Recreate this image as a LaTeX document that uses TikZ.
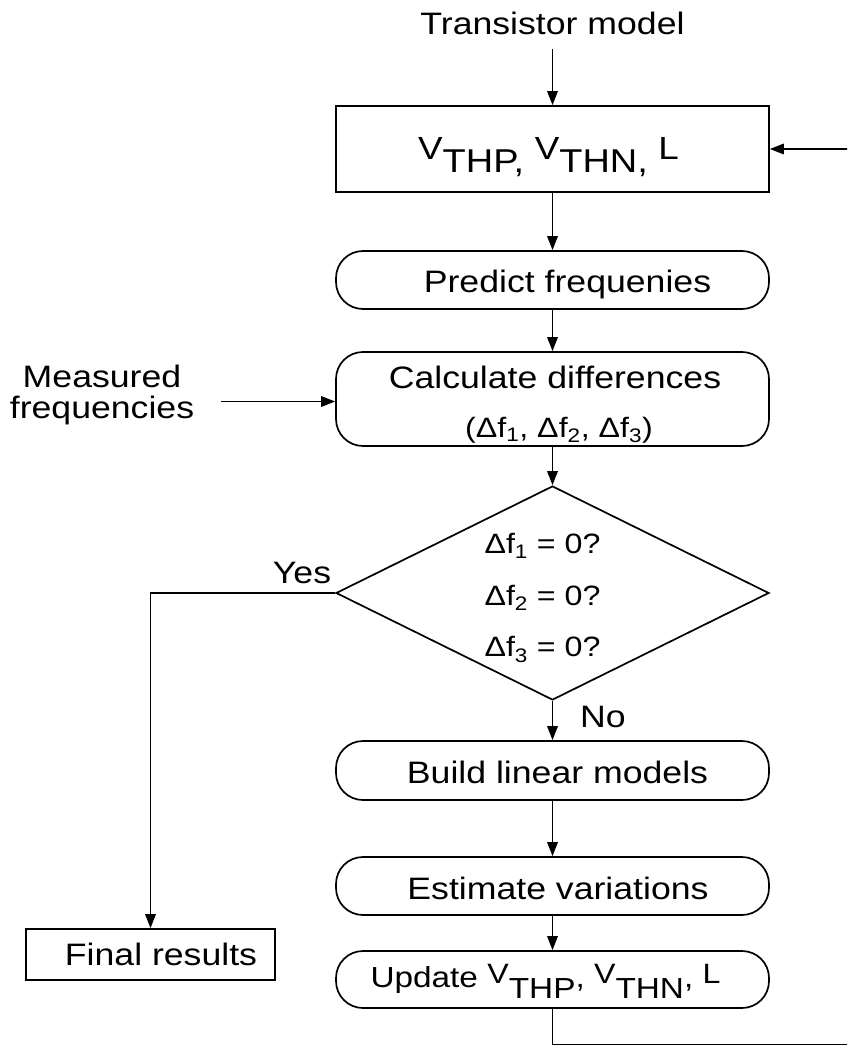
\documentclass[tikz,border=0pt]{standalone}
\usepackage{fontspec}
\setmainfont{Liberation Sans}[FakeStretch=1.15]
\usetikzlibrary{arrows.meta,shapes.geometric}

% font size with equal leading
\newcommand\fs[1]{\fontsize{#1}{#1}\selectfont}
% raised V followed by its index (parameter box)
\newcommand\vpart[1]{{\fs{32}\raisebox{13pt}{V}}#1}
% same, as used in the update step
\newcommand\upart[1]{{\fs{28}\raisebox{4pt}{V}}{\fs{29}\raisebox{-11pt}{#1}}}

\begin{document}
\begin{tikzpicture}[x=1pt,y=-1pt,
  line width=1.7pt,
  conn/.style={-{Triangle[length=14pt,width=10.5pt]}},
  pill/.style={draw, rounded corners=27pt, minimum width=433pt, inner sep=0pt,
               font=\fs{31}, text height=28pt, text depth=2pt},
  sqbox/.style={draw, inner sep=0pt},
  lbl/.style={inner sep=0pt, font=\fs{31}}
]
\useasboundingbox (0,0) rectangle (847,1048);
\clip (0,0) rectangle (847,1048);

% input
\node[lbl, anchor=base] (trans) at (552.5,35) {Transistor model};

% parameter box
\node[sqbox, minimum width=433pt, minimum height=86pt, font=\fs{33},
      text height=50pt, text depth=2pt] (top) at (552.5,149)
      {\vpart{THP}, \vpart{THN}, {\fs{32}\raisebox{13pt}{L}}\hspace*{8pt}};

% process steps
\node[pill, minimum height=58pt] (pred) at (552.5,280) {\hspace*{30pt}Predict frequenies};
\node[pill, minimum height=94pt] (calc) at (552.5,399) {};
\node[lbl, anchor=base] (calcA) at (555,388) {Calculate differences};
\node[lbl, anchor=base, font=\fs{28}] (calcB) at (559,437)
      {(Δf\textsubscript{1}, Δf\textsubscript{2}, Δf\textsubscript{3})};

% measured input
\node[lbl, align=center] (meas) at (102,394.5) {Measured\\frequencies};
\coordinate (msrc) at (221,401.5);

% decision
\node[draw, diamond, minimum width=433pt, minimum height=214pt, inner sep=0pt] (dia) at (552.5,593) {};
\node[lbl, align=center, font={\fontsize{28}{51.5}\selectfont}] (diaq) at (542.5,598)
      {Δf\textsubscript{1} = 0?\\Δf\textsubscript{2} = 0?\\Δf\textsubscript{3} = 0?};
\node[lbl, anchor=base] (yes) at (302,583) {Yes};
\node[lbl, anchor=base] (no) at (603,727) {No};

\node[pill, minimum height=59pt] (build) at (552.5,770.5) {\hspace*{10pt}Build linear models};
\node[pill, minimum height=58pt] (est) at (552.5,886) {\hspace*{11pt}Estimate variations};
\node[pill, minimum height=57pt, font=\fs{29}, text height=17pt, text depth=2pt] (upd) at (552.5,979.5)
      {Update \upart{THP}, \upart{THN}, {\fs{28}\raisebox{4pt}{L}}\hspace*{14pt}};

% result
\node[sqbox, minimum width=249pt, minimum height=51pt, font=\fs{31},
      text height=23pt, text depth=2pt] (fin) at (150.5,954.5) {\hspace*{21pt}Final results};

% connectors
\draw[conn, shorten <=13pt] (trans.south) -- (top.north);
\draw[conn] (top) -- (pred);
\draw[conn] (pred) -- (calc);
\draw[conn] (msrc) -- (msrc -| calc.west);
\draw[conn] (calc) -- (dia);
\draw[conn] (dia) -- (build);
\draw[conn] (build) -- (est);
\draw[conn] (est) -- (upd);
\draw[conn] (dia.west) -| (fin.north);
\coordinate (fbk) at (851,1044.5);
\draw[conn] (upd.south) |- (fbk) |- (top.east);
\end{tikzpicture}
\end{document}
